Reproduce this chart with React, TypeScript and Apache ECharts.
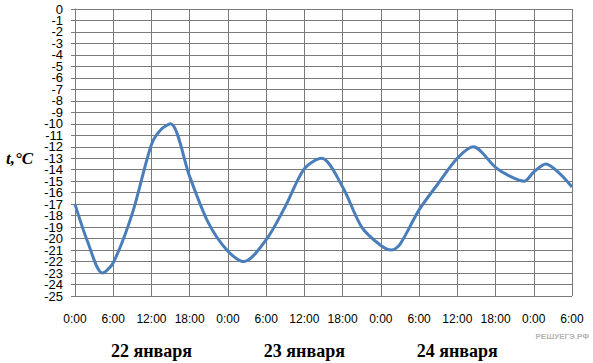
import React, { useEffect, useRef } from "react";
import * as echarts from "echarts";

// hours since 0:00 on 22 January
const hours = [0, 2, 4.3, 6, 9, 12, 13.5, 15, 18, 21, 24, 26.5, 30, 33, 36, 38.7, 42, 45, 48, 49.7, 51, 54, 57, 60, 62.5, 66, 68, 70.5, 72, 73.9, 76, 78];
const temps = [-17, -20.3, -23, -22.1, -17.8, -11.8, -10.5, -10, -14.6, -18.7, -21.1, -22, -20.1, -17.2, -13.9, -13, -15.5, -19, -20.6, -21, -20.5, -17.5, -15.2, -13, -12, -13.8, -14.5, -15, -14.2, -13.5, -14.3, -15.5];
const yTicks = [0, -1, -2, -3, -4, -5, -6, -7, -8, -9, -10, -11, -12, -13, -14, -15, -16, -17, -18, -19, -20, -21, -22, -23, -24, -25];
const dayNames = ["22 января", "23 января", "24 января"];
const dayCenters = [12, 36, 60];
const dayBoundaries = [24, 48, 72];
const yTitle = "t,°C";
const watermark = "РЕШУЕГЭ.РФ";

export default function App() {
  const ref = useRef<HTMLDivElement>(null);
  useEffect(() => {
    if (!ref.current) return;
    const chart = echarts.init(ref.current, null, { renderer: "svg" });
    const gridColor = "#7a7a7a";
    const yLabelStyle = {
      margin: 12,
      fontSize: 13,
      color: "#000",
      showMinLabel: true,
      showMaxLabel: true,
      fontFamily: "Liberation Sans, Arial, sans-serif",
    };
    const labelAxis = (values: number[]) => ({
      type: "value",
      min: -25,
      max: 0,
      position: "left",
      axisLine: { show: false },
      axisTick: { show: false },
      splitLine: { show: false },
      axisLabel: { ...yLabelStyle, customValues: values },
    });
    chart.setOption({
      animation: false,
      backgroundColor: "#ffffff",
      grid: { left: 75, right: 21, top: 9, bottom: 67, containLabel: false },
      xAxis: [
        {
          type: "value",
          min: 0,
          max: 78,
          interval: 6,
          axisLine: { show: true, lineStyle: { color: gridColor, width: 1 } },
          axisTick: { show: false },
          splitLine: { show: true, lineStyle: { color: gridColor, width: 1 } },
          axisLabel: {
            margin: 17,
            fontSize: 12,
            color: "#000",
            showMinLabel: true,
            showMaxLabel: true,
            fontFamily: "Liberation Sans, Arial, sans-serif",
            formatter: (v: number) => `${v % 24}:00`,
          },
        },
        {
          type: "value",
          min: 0,
          max: 78,
          position: "bottom",
          axisLine: { show: false },
          axisTick: { show: true, customValues: dayBoundaries, length: 12, lineStyle: { color: gridColor, width: 1 } },
          splitLine: { show: false },
          axisLabel: {
            customValues: dayCenters,
            margin: 46,
            fontSize: 18,
            fontWeight: "bold",
            color: "#000",
            fontFamily: "Liberation Serif, Times New Roman, serif",
            formatter: (v: number) => dayNames[dayCenters.indexOf(v)] ?? "",
          },
        },
      ],
      yAxis: [
        {
          type: "value",
          min: -25,
          max: 0,
          interval: 1,
          position: "left",
          axisLine: { show: true, lineStyle: { color: gridColor, width: 1 } },
          axisTick: { show: true, length: 4, lineStyle: { color: gridColor } },
          splitLine: { show: true, lineStyle: { color: gridColor, width: 1 } },
          axisLabel: { show: false },
        },
        labelAxis(yTicks.filter((v) => v % 2 !== 0)),
        labelAxis(yTicks.filter((v) => v % 2 === 0)),
      ],
      graphic: [
        {
          type: "text",
          left: 6,
          top: 150,
          style: {
            text: yTitle,
            fontSize: 17,
            fontStyle: "italic",
            fontWeight: "bold",
            fontFamily: "Liberation Serif, Times New Roman, serif",
            fill: "#000",
          },
        },
        {
          type: "text",
          right: 4,
          top: 332,
          style: {
            text: watermark,
            fontSize: 8,
            fontWeight: "bold",
            fontFamily: "Liberation Sans, Arial, sans-serif",
            fill: "#b4b4b4",
          },
        },
      ],
      series: [
        {
          type: "line",
          xAxisIndex: 0,
          yAxisIndex: 0,
          data: hours.map((h, i) => [h, temps[i]]),
          smooth: 0.3,
          showSymbol: false,
          lineStyle: { color: "#4A7EBB", width: 3 },
        },
      ],
    });
    return () => chart.dispose();
  }, []);
  return <div ref={ref} style={{ position: "fixed", left: 0, top: 0, width: 593, height: 363 }} />;
}
